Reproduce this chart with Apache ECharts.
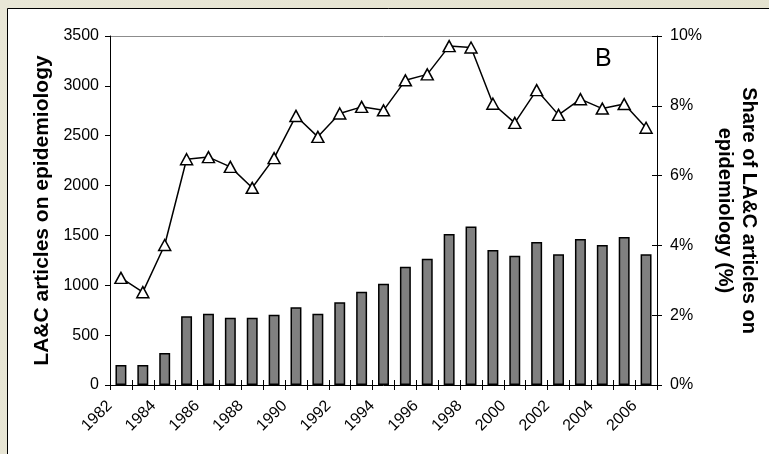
<!DOCTYPE html>
<html>
<head>
<meta charset="utf-8">
<script src="https://cdn.jsdelivr.net/npm/echarts@6/dist/echarts.min.js"></script>
<style>
html,body{margin:0;padding:0;width:769px;height:454px;overflow:hidden;background:#e6e4d2;}
#chart{width:769px;height:454px;}
</style>
</head>
<body>
<div id="chart"></div>
<script>
const years = ['1982','1983','1984','1985','1986','1987','1988','1989','1990','1991','1992','1993','1994','1995','1996','1997','1998','1999','2000','2001','2002','2003','2004','2005','2006'];
const articles = [200,200,320,690,715,675,675,705,780,715,830,935,1015,1185,1265,1515,1590,1355,1295,1435,1310,1465,1405,1485,1310];
const share = [3.07,2.66,4.01,6.47,6.53,6.25,5.65,6.50,7.71,7.11,7.78,7.97,7.87,8.73,8.90,9.71,9.67,8.06,7.51,8.45,7.74,8.19,7.92,8.05,7.37];
const leftTitle = 'LA&C articles on epidemiology';
const rightTitle = 'Share of LA&C articles on\nepidemiology (%)';
const panelLabel = 'B';

const chart = echarts.init(document.getElementById('chart'), null, {renderer:'canvas'});
const font = 'Liberation Sans, Arial, sans-serif';
chart.setOption({
  animation: false,
  textStyle: {fontFamily: font},
  graphic: [
    {type:'rect', z:-10, silent:true, shape:{x:0,y:0,width:769,height:454},
     style:{fill:new echarts.graphic.LinearGradient(0,0,1,1,[{offset:0,color:'#e9e7d7'},{offset:1,color:'#e3e1cd'}])}},
    {type:'rect', z:-9, silent:true, shape:{x:7.5,y:8.5,width:780,height:460},
     style:{fill:'#ffffff', stroke:'#000000', lineWidth:1}},
    {type:'text', left:595, top:47, z:10,
     style:{text:panelLabel, font:'25px ' + font, fill:'#000'}}
  ],
  grid: {left:110, right:112, top:36, bottom:69, containLabel:false},
  xAxis: [
    {type:'category', data: years, boundaryGap:true, position:'bottom',
     axisLine:{lineStyle:{color:'#000', width:1}},
     axisTick:{show:true, interval:0, length:5, lineStyle:{color:'#000'}},
     axisLabel:{interval:1, rotate:45, margin:7, padding:[0,16,0,0], fontSize:16, color:'#000', fontFamily:font},
     splitLine:{show:false}
    },
    {type:'category', data: years, boundaryGap:true, position:'bottom',
     axisLine:{show:false},
     axisTick:{show:true, inside:true, interval:0, length:5, lineStyle:{color:'#000'}},
     axisLabel:{show:false},
     splitLine:{show:false}
    }
  ],
  yAxis: [
    {type:'value', min:0, max:3500, interval:500, position:'left',
     name: leftTitle, nameLocation:'middle', nameGap:57,
     nameTextStyle:{fontSize:21, fontWeight:'bold', color:'#000', fontFamily:font},
     axisLine:{show:true, lineStyle:{color:'#000'}},
     axisTick:{show:true, length:5, lineStyle:{color:'#000'}},
     axisLabel:{fontSize:16, color:'#000', margin:11, fontFamily:font, formatter:function(v){return String(v);}},
     splitLine:{show:true, lineStyle:{color:['rgba(0,0,0,0)','rgba(0,0,0,0)','rgba(0,0,0,0)','rgba(0,0,0,0)','rgba(0,0,0,0)','rgba(0,0,0,0)','rgba(0,0,0,0)','#8c8c8c'], width:1}}
    },
    {type:'value', min:0, max:10, interval:2, position:'right',
     name: rightTitle, nameLocation:'middle', nameGap:56, nameRotate:-90,
     nameTextStyle:{fontSize:20, fontWeight:'bold', color:'#000', lineHeight:24, fontFamily:font},
     axisLine:{show:true, lineStyle:{color:'#000'}},
     axisTick:{show:true, length:5, lineStyle:{color:'#000'}},
     axisLabel:{fontSize:16, color:'#000', margin:13, formatter:'{value}%', fontFamily:font},
     splitLine:{show:false}
    },
    {type:'value', min:0, max:10, interval:2, position:'right',
     axisLine:{show:false},
     axisTick:{show:true, inside:true, length:5, lineStyle:{color:'#000'}},
     axisLabel:{show:false},
     splitLine:{show:false}
    }
  ],
  series: [
    {type:'bar', name:'Articles', xAxisIndex:0, yAxisIndex:0, data: articles, barWidth:'50%',
     itemStyle:{color:'#808080', borderColor:'#000', borderWidth:1.5}},
    {type:'line', name:'Share', xAxisIndex:0, yAxisIndex:1, data: share,
     symbol:'triangle', symbolSize:[12,11], showAllSymbol:true,
     lineStyle:{color:'#000', width:1.5},
     itemStyle:{color:'#fff', borderColor:'#000', borderWidth:1.5}}
  ]
});
</script>
</body>
</html>
